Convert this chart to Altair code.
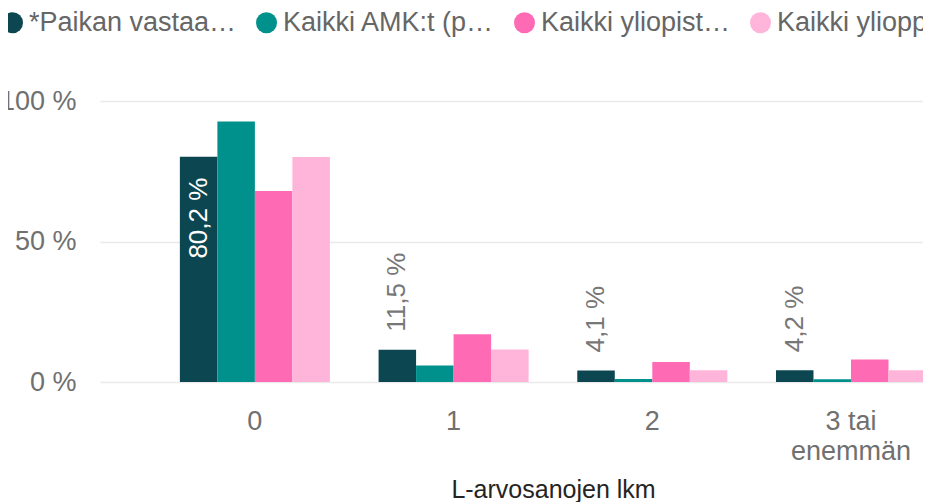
import altair as alt
import pandas as pd

categories = ["0", "1", "2", "3 tai enemmän"]
series = ["*Paikan vastaa…", "Kaikki AMK:t (p…", "Kaikki yliopist…", "Kaikki yliopp…"]
paikan = [80.2, 11.5, 4.1, 4.2]
amk = [92.7, 5.9, 1.1, 1.0]
yliopistot = [68.0, 17.0, 7.1, 8.0]
ylioppilaat = [80.1, 11.6, 4.2, 4.2]
colors = ["#0B4651", "#00918C", "#FF6AB5", "#FFB4DA"]

rows = []
for s, vals in zip(series, [paikan, amk, yliopistot, ylioppilaat]):
    for c, v in zip(categories, vals):
        rows.append({"luokka": c, "sarja": s, "osuus": v})
df = pd.DataFrame(rows)

FONT = "Liberation Sans"

x = alt.X(
    "luokka:N", sort=categories, title="L-arvosanojen lkm",
    scale=alt.Scale(range=[0, 826], paddingInner=0.245, paddingOuter=0.201, align=1),
    axis=alt.Axis(
        labelAngle=0, labelFontSize=27, labelColor="#707070", labelFont=FONT,
        labelPadding=26, ticks=False, tickSize=0, domain=False, grid=False,
        labelExpr="length(datum.label) > 8 ? [slice(datum.label, 0, 5), slice(datum.label, 6)] : datum.label",
        labelLineHeight=30, labelBaseline="top",
        titleFontSize=25, titleFont=FONT, titleColor="#252423", titleFontWeight="normal",
        titleX=453, titleY=115, titleAlign="center", titleBaseline="alphabetic",
    ),
)
xo = alt.XOffset("sarja:N", sort=series, scale=alt.Scale(paddingInner=0, paddingOuter=0))
y = alt.Y(
    "osuus:Q", title=None,
    scale=alt.Scale(domain=[0, 100], nice=False),
    axis=alt.Axis(
        values=[0, 50, 100], labelExpr="datum.value + ' %'",
        labelFontSize=27, labelColor="#707070", labelFont=FONT, labelPadding=24,
        grid=True, gridColor="#EAEAEA", gridWidth=1.5, domain=False, ticks=False, tickSize=0,
    ),
)
color = alt.Color(
    "sarja:N", sort=series,
    scale=alt.Scale(domain=series, range=colors),
    legend=alt.Legend(
        orient="none", legendX=-101, legendY=-92, direction="horizontal", title=None,
        symbolType="circle", symbolSize=441, symbolStrokeWidth=0,
        labelFontSize=27, labelColor="#666666", labelFont=FONT, labelOffset=3,
        columnPadding=16, labelLimit=600, padding=0,
    ),
)

base = alt.Chart(df)
bars = base.mark_bar().encode(x=x, xOffset=xo, y=y, color=color)

labels = base.transform_filter(alt.datum.sarja == series[0]).transform_calculate(
    teksti="replace(format(datum.osuus, '.1f'), '.', ',') + ' %'"
)
inside = labels.transform_filter("datum.osuus >= 50").mark_text(
    angle=270, align="right", baseline="middle", dx=-21, color="white", fontSize=26, font=FONT
).encode(x=x, xOffset=xo, y=y, text="teksti:N")
outside = labels.transform_filter("datum.osuus < 50").mark_text(
    angle=270, align="left", baseline="middle", dx=18, color="#777777", fontSize=26, font=FONT
).encode(x=x, xOffset=xo, y=y, text="teksti:N")

chart = alt.layer(bars, inside, outside).properties(
    width=821, height=281,
    autosize=alt.AutoSizeParams(type="none"),
    padding={"left": 92, "top": 93, "right": 2, "bottom": 120},
).configure_view(stroke=None)

chart.save("out.html", embed_options={"renderer": "svg", "actions": False})
